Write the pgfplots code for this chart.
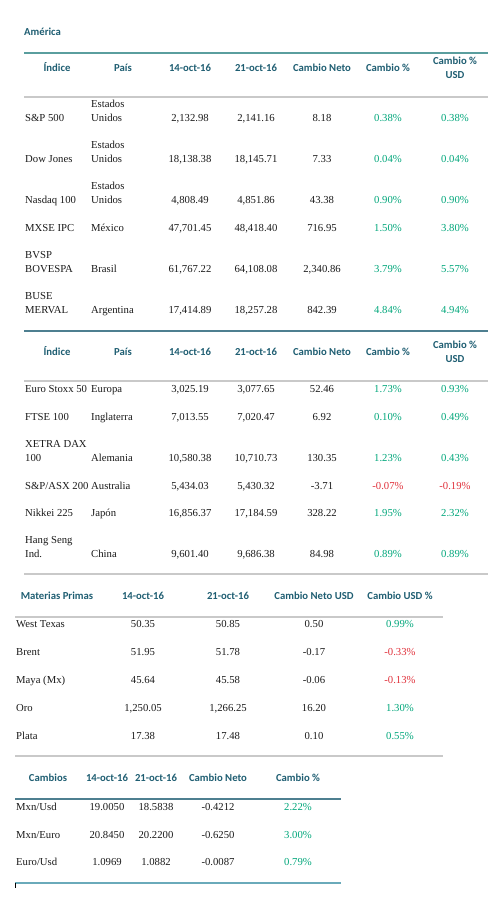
\documentclass[border=0pt]{standalone}
\usepackage{fontspec}
\setmainfont{Liberation Serif}
\newfontfamily\hd{Carlito}
\usepackage{pgfplots}
\usepackage{pgfplotstable}
\pgfplotsset{compat=1.18}
\definecolor{hdr}{HTML}{1F5E72}
\definecolor{tla}{HTML}{5A9E9E}
\definecolor{tlb}{HTML}{4E7F90}
\definecolor{tlc}{HTML}{6AAABA}
\definecolor{gline}{HTML}{C9C9C9}
\definecolor{grn}{HTML}{00A67A}
\definecolor{rd}{HTML}{E0303A}
\definecolor{body}{HTML}{1A1A1A}
\newcommand\BF{\fontsize{10.7}{12}\selectfont}
\newcommand\HF{\hd\bfseries\fontsize{10.7}{12}\selectfont}
\pgfplotsset{
  lab/.style n args={3}{only marks, mark=none, nodes near coords,
    point meta=explicit symbolic,
    every node near coord/.append style={anchor=#1, inner sep=0pt, font=#2, text=#3}},
  table/tb/.style={header=false, x index=0, y index=1, meta index=2, col sep=semicolon},
}
\begin{document}
\begin{tikzpicture}
\begin{axis}[
  width=500pt, height=900pt, scale only axis,
  xmin=0, xmax=500, ymin=0, ymax=900, y dir=reverse,
  hide axis, clip=false]
\addplot[draw=none, mark=none] coordinates {(0,0) (500,900)};
% rules
\addplot[draw=tla, line width=2pt, mark=none] coordinates {(24,53) (488,53)};
\addplot[draw=gline, line width=1.5pt, mark=none] coordinates {(24,97) (488,97)};
\addplot[draw=tlb, line width=2pt, mark=none] coordinates {(24,331) (488,331)};
\addplot[draw=gline, line width=1.5pt, mark=none] coordinates {(24,381) (488,381)};
\addplot[draw=gline, line width=1.5pt, mark=none] coordinates {(24,574) (488,574)};
\addplot[draw=gline, line width=1.5pt, mark=none] coordinates {(15,617) (443,617)};
\addplot[draw=gline, line width=1.5pt, mark=none] coordinates {(15,756) (443,756)};
\addplot[draw=tlb, line width=2pt, mark=none] coordinates {(15,799) (341,799)};
\addplot[draw=tlc, line width=2pt, mark=none] coordinates {(15,883) (341,883)};
\addplot[draw=black, line width=0.8pt, mark=none] coordinates {(15.4,883) (15.4,888)};
% titles / headers
\addplot[lab={base west}{\HF}{hdr}] table[tb] {
24;35.5;América
};
\addplot[lab={base}{\HF}{hdr}] table[tb] {
57;71.5;Índice
123;71.5;País
190;71.5;14-oct-16
256;71.5;21-oct-16
322;71.5;Cambio Neto
388;71.5;Cambio \%
455;64.5;Cambio \%
455;78.5;USD
57;355.5;Índice
123;355.5;País
190;355.5;14-oct-16
256;355.5;21-oct-16
322;355.5;Cambio Neto
388;355.5;Cambio \%
455;348.5;Cambio \%
455;362.5;USD
57;599.5;Materias Primas
143;599.5;14-oct-16
228;599.5;21-oct-16
314;599.5;Cambio Neto USD
400;599.5;Cambio USD \%
48;781.5;Cambios
107;781.5;14-oct-16
156;781.5;21-oct-16
218;781.5;Cambio Neto
298;781.5;Cambio \%
};
% left-aligned body text
\addplot[lab={base west}{\BF}{body}] table[tb] {
25;121.5;S\&P 500
25;162.5;Dow Jones
25;203.5;Nasdaq 100
25;231.5;MXSE IPC
25;258.5;BVSP
25;272.5;BOVESPA
25;299.5;BUSE
25;313.5;MERVAL
91;107.5;Estados
91;121.5;Unidos
91;148.5;Estados
91;162.5;Unidos
91;189.5;Estados
91;203.5;Unidos
91;231.5;México
91;272.5;Brasil
91;313.5;Argentina
25;392.5;Euro Stoxx 50
25;420.5;FTSE 100
25;447.5;XETRA DAX
25;461.5;100
25;489.5;S\&P/ASX 200
25;516.5;Nikkei 225
25;543.5;Hang Seng
25;557.5;Ind.
91;392.5;Europa
91;420.5;Inglaterra
91;461.5;Alemania
91;489.5;Australia
91;516.5;Japón
91;557.5;China
16;627.5;West Texas
16;655.5;Brent
16;683.5;Maya (Mx)
16;711.5;Oro
16;739.5;Plata
16;810.5;Mxn/Usd
16;838.5;Mxn/Euro
16;865.5;Euro/Usd
};
% centred numbers
\addplot[lab={base}{\BF}{body}] table[tb] {
190;121.5;2,132.98
256;121.5;2,141.16
322;121.5;8.18
190;162.5;18,138.38
256;162.5;18,145.71
322;162.5;7.33
190;203.5;4,808.49
256;203.5;4,851.86
322;203.5;43.38
190;231.5;47,701.45
256;231.5;48,418.40
322;231.5;716.95
190;272.5;61,767.22
256;272.5;64,108.08
322;272.5;2,340.86
190;313.5;17,414.89
256;313.5;18,257.28
322;313.5;842.39
190;392.5;3,025.19
256;392.5;3,077.65
322;392.5;52.46
190;420.5;7,013.55
256;420.5;7,020.47
322;420.5;6.92
190;461.5;10,580.38
256;461.5;10,710.73
322;461.5;130.35
190;489.5;5,434.03
256;489.5;5,430.32
322;489.5;-3.71
190;516.5;16,856.37
256;516.5;17,184.59
322;516.5;328.22
190;557.5;9,601.40
256;557.5;9,686.38
322;557.5;84.98
143;627.5;50.35
228;627.5;50.85
314;627.5;0.50
143;655.5;51.95
228;655.5;51.78
314;655.5;-0.17
143;683.5;45.64
228;683.5;45.58
314;683.5;-0.06
143;711.5;1,250.05
228;711.5;1,266.25
314;711.5;16.20
143;739.5;17.38
228;739.5;17.48
314;739.5;0.10
107;810.5;19.0050
156;810.5;18.5838
218;810.5;-0.4212
107;838.5;20.8450
156;838.5;20.2200
218;838.5;-0.6250
107;865.5;1.0969
156;865.5;1.0882
218;865.5;-0.0087
};
% green percentages
\addplot[lab={base}{\BF}{grn}] table[tb] {
388;121.5;0.38\%
455;121.5;0.38\%
388;162.5;0.04\%
455;162.5;0.04\%
388;203.5;0.90\%
455;203.5;0.90\%
388;231.5;1.50\%
455;231.5;3.80\%
388;272.5;3.79\%
455;272.5;5.57\%
388;313.5;4.84\%
455;313.5;4.94\%
388;392.5;1.73\%
455;392.5;0.93\%
388;420.5;0.10\%
455;420.5;0.49\%
388;461.5;1.23\%
455;461.5;0.43\%
388;516.5;1.95\%
455;516.5;2.32\%
388;557.5;0.89\%
455;557.5;0.89\%
400;627.5;0.99\%
400;711.5;1.30\%
400;739.5;0.55\%
298;810.5;2.22\%
298;838.5;3.00\%
298;865.5;0.79\%
};
% red percentages
\addplot[lab={base}{\BF}{rd}] table[tb] {
388;489.5;-0.07\%
455;489.5;-0.19\%
400;655.5;-0.33\%
400;683.5;-0.13\%
};
\end{axis}
\end{tikzpicture}
\end{document}
